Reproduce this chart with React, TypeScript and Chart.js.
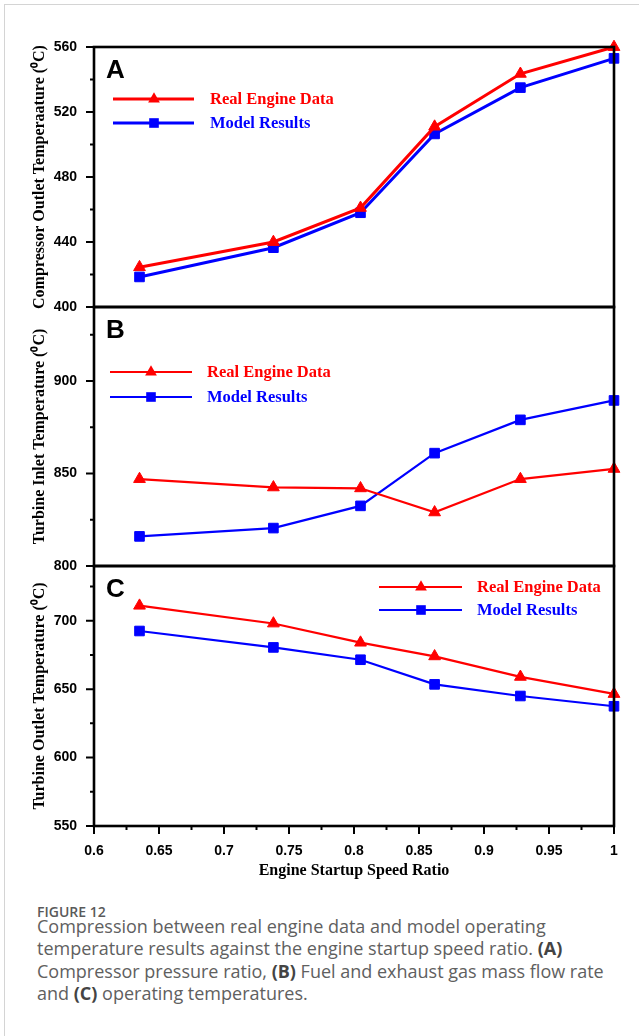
import React, { useEffect, useRef } from "react";
import { Chart, registerables } from "chart.js";

Chart.register(...registerables);

// ---------- data ----------
const SPEED_RATIO = [0.635, 0.738, 0.805, 0.862, 0.928, 1.0];

const COMP_OUT_REAL = [424.5, 440, 461, 511, 543.5, 560];
const COMP_OUT_MODEL = [418.5, 436.5, 458, 506.5, 535, 553];

const TURB_IN_REAL = [847, 842.5, 842, 829, 847, 852.5];
const TURB_IN_MODEL = [816, 820.5, 832.5, 861, 879, 889.5];

const TURB_OUT_REAL = [711, 698, 684, 674, 659, 646.5];
const TURB_OUT_MODEL = [692.5, 680.5, 671.5, 653.5, 645, 637.5];

const X_TICKS = [0.6, 0.65, 0.7, 0.75, 0.8, 0.85, 0.9, 0.95, 1];
const X_MINOR = [0.625, 0.675, 0.725, 0.775, 0.825, 0.875, 0.925, 0.975];
const A_TICKS = [400, 440, 480, 520, 560];
const A_MINOR = [420, 460, 500, 540];
const B_TICKS = [800, 850, 900];
const B_MINOR = [825, 875, 925];
const C_TICKS = [550, 600, 650, 700];
const C_MINOR = [575, 625, 675, 725];

const SERIES_LABELS = ["Real Engine Data", "Model Results"];
const Y_TITLES = [
  "Compressor Outlet Temperaature (\u2070C)",
  "Turbine Inlet Temperature (\u2070C)",
  "Turbine Outlet Temperature (\u2070C)",
];
const X_TITLE = "Engine Startup Speed Ratio";
const PANEL_LETTERS = ["A", "B", "C"];

const RED = "#ff0000";
const BLUE = "#0000ff";

type PanelCfg = {
  top: number;
  height: number;
  padTop: number;
  padBottom: number;
  showX: boolean;
  real: number[];
  model: number[];
  yMin: number;
  yMax: number;
  yTicks: number[];
  yMinor: number[];
  yTitle: string;
  letter: string;
  lw: number;
  legend: { x0: number; x1: number; xm: number; yR: number; yB: number; tx: number };
};

// chart areas: A 47-307, B 307-566, C 566-826 (page px)
const PANELS: PanelCfg[] = [
  {
    top: 0, height: 325, padTop: 47, padBottom: 18, showX: false,
    real: COMP_OUT_REAL, model: COMP_OUT_MODEL, yMin: 400, yMax: 560,
    yTicks: A_TICKS, yMinor: A_MINOR, yTitle: Y_TITLES[0], letter: PANEL_LETTERS[0], lw: 3,
    legend: { x0: 113, x1: 194, xm: 154, yR: 99, yB: 123, tx: 210 },
  },
  {
    top: 289, height: 295, padTop: 18, padBottom: 18, showX: false,
    real: TURB_IN_REAL, model: TURB_IN_MODEL, yMin: 800, yMax: 940,
    yTicks: B_TICKS, yMinor: B_MINOR, yTitle: Y_TITLES[1], letter: PANEL_LETTERS[1], lw: 2.2,
    legend: { x0: 110, x1: 192, xm: 151, yR: 372, yB: 397, tx: 207 },
  },
  {
    top: 548, height: 332, padTop: 18, padBottom: 0, showX: true,
    real: TURB_OUT_REAL, model: TURB_OUT_MODEL, yMin: 550, yMax: 740,
    yTicks: C_TICKS, yMinor: C_MINOR, yTitle: Y_TITLES[2], letter: PANEL_LETTERS[2], lw: 2.2,
    legend: { x0: 379, x1: 462, xm: 421, yR: 587, yB: 610, tx: 477 },
  },
];

const TICK_FONT = { family: "'Liberation Sans', Arial, sans-serif", weight: "bold" as const, size: 14 };
const TITLE_FONT = { family: "'Liberation Serif', 'Times New Roman', serif", weight: "bold" as const, size: 16 };

function drawMarker(ctx: CanvasRenderingContext2D, style: string, x: number, y: number, r: number, color: string) {
  ctx.fillStyle = color;
  ctx.beginPath();
  if (style === "triangle") {
    let rad = 0;
    ctx.moveTo(x + Math.sin(rad) * r, y - Math.cos(rad) * r);
    rad += (2 * Math.PI) / 3;
    ctx.lineTo(x + Math.sin(rad) * r, y - Math.cos(rad) * r);
    rad += (2 * Math.PI) / 3;
    ctx.lineTo(x + Math.sin(rad) * r, y - Math.cos(rad) * r);
    ctx.closePath();
  } else {
    const s = Math.SQRT1_2 * r;
    ctx.rect(x - s, y - s, 2 * s, 2 * s);
  }
  ctx.fill();
}

function makeChart(canvas: HTMLCanvasElement, cfg: PanelCfg) {
  const framePlugin = {
    id: "frameTicksLegend",
    afterDatasetsDraw(chart: any) {
      const ctx: CanvasRenderingContext2D = chart.ctx;
      const { left, right, top, bottom } = chart.chartArea;
      const ys = chart.scales.y;
      const xs = chart.scales.x;
      ctx.save();
      ctx.strokeStyle = "#000";
      ctx.lineWidth = 2;
      ctx.beginPath();
      cfg.yTicks.forEach((v) => {
        const p = ys.getPixelForValue(v);
        ctx.moveTo(left - 8, p);
        ctx.lineTo(left, p);
      });
      cfg.yMinor.forEach((v) => {
        const p = ys.getPixelForValue(v);
        ctx.moveTo(left - 4, p);
        ctx.lineTo(left, p);
      });
      if (cfg.showX) {
        X_TICKS.forEach((v) => {
          const p = xs.getPixelForValue(v);
          ctx.moveTo(p, bottom);
          ctx.lineTo(p, bottom + 8);
        });
        X_MINOR.forEach((v) => {
          const p = xs.getPixelForValue(v);
          ctx.moveTo(p, bottom);
          ctx.lineTo(p, bottom + 4);
        });
      }
      ctx.stroke();
      ctx.lineWidth = 2.6;
      ctx.strokeRect(left, top, right - left, bottom - top);

      // panel letter
      ctx.fillStyle = "#000";
      ctx.font = "bold 26px 'Liberation Sans', Arial, sans-serif";
      ctx.textBaseline = "alphabetic";
      ctx.textAlign = "left";
      ctx.fillText(cfg.letter, left + 12, top + 31);

      // legend
      const L = cfg.legend;
      const off = cfg.top;
      const items = [
        { y: L.yR - off, color: RED, style: "triangle", text: SERIES_LABELS[0] },
        { y: L.yB - off, color: BLUE, style: "rect", text: SERIES_LABELS[1] },
      ];
      items.forEach((it) => {
        ctx.strokeStyle = it.color;
        ctx.lineWidth = cfg.lw;
        ctx.beginPath();
        ctx.moveTo(L.x0, it.y);
        ctx.lineTo(L.x1, it.y);
        ctx.stroke();
        drawMarker(ctx, it.style, L.xm, it.y, 6.8, it.color);
        ctx.fillStyle = it.color;
        ctx.font = "bold 16.5px 'Liberation Serif', 'Times New Roman', serif";
        ctx.textBaseline = "middle";
        ctx.fillText(it.text, L.tx, it.y + 1);
      });
      ctx.restore();
    },
  };

  const mk = (vals: number[]) => SPEED_RATIO.map((x, i) => ({ x, y: vals[i] }));

  return new Chart(canvas, {
    type: "line",
    data: {
      datasets: [
        {
          label: SERIES_LABELS[0],
          data: mk(cfg.real),
          borderColor: RED,
          backgroundColor: RED,
          pointBackgroundColor: RED,
          pointBorderColor: RED,
          pointStyle: "triangle",
          pointRadius: 6.8,
          pointBorderWidth: 1,
          borderWidth: cfg.lw,
          tension: 0,
          clip: false,
        },
        {
          label: SERIES_LABELS[1],
          data: mk(cfg.model),
          borderColor: BLUE,
          backgroundColor: BLUE,
          pointBackgroundColor: BLUE,
          pointBorderColor: BLUE,
          pointStyle: "rect",
          pointRadius: 6.8,
          pointBorderWidth: 1,
          borderWidth: cfg.lw,
          tension: 0,
          clip: false,
        },
      ],
    },
    options: {
      animation: false,
      responsive: false,
      maintainAspectRatio: false,
      devicePixelRatio: 1,
      layout: { padding: { left: 0, right: 25, top: cfg.padTop, bottom: cfg.padBottom } },
      plugins: { legend: { display: false }, tooltip: { enabled: false } },
      scales: {
        x: {
          type: "linear",
          min: 0.6,
          max: 1,
          display: cfg.showX,
          afterBuildTicks: (s: any) => {
            s.ticks = X_TICKS.map((v) => ({ value: v }));
          },
          afterFit: (s: any) => {
            s.height = cfg.showX ? 54 : 0;
          },
          grid: { display: false, drawTicks: true, tickLength: 8 },
          border: { display: false },
          ticks: {
            font: TICK_FONT,
            color: "#000",
            padding: 9,
            maxRotation: 0,
            autoSkip: false,
            callback: (v: any) => String(Math.round(Number(v) * 100) / 100),
          },
          title: {
            display: true,
            text: X_TITLE,
            font: TITLE_FONT,
            color: "#000",
            padding: { top: 0, bottom: 0 },
          },
        },
        y: {
          type: "linear",
          min: cfg.yMin,
          max: cfg.yMax,
          afterBuildTicks: (s: any) => {
            s.ticks = cfg.yTicks.map((v) => ({ value: v }));
          },
          afterFit: (s: any) => {
            s.width = 94;
          },
          grid: { display: false, drawTicks: true, tickLength: 8 },
          border: { display: false },
          ticks: {
            font: TICK_FONT,
            color: "#000",
            padding: 9,
            autoSkip: false,
            callback: (v: any) => String(v),
          },
          title: {
            display: true,
            text: cfg.yTitle,
            font: TITLE_FONT,
            color: "#000",
            padding: { top: 30, bottom: 0 },
          },
        },
      },
    },
    plugins: [framePlugin],
  } as any);
}

function Panel({ cfg }: { cfg: PanelCfg }) {
  const ref = useRef<HTMLCanvasElement | null>(null);
  useEffect(() => {
    if (!ref.current) return;
    const chart = makeChart(ref.current, cfg);
    return () => chart.destroy();
  }, [cfg]);
  return (
    <canvas
      ref={ref}
      width={639}
      height={cfg.height}
      style={{ position: "absolute", left: 0, top: cfg.top, width: 639, height: cfg.height }}
    />
  );
}

export default function App() {
  const capStyle: React.CSSProperties = {
    position: "absolute",
    left: 37,
    top: 914.7,
    fontFamily: "'Open Sans', 'Noto Sans', sans-serif",
    fontSize: 18,
    lineHeight: "22.6px",
    color: "#606060",
    whiteSpace: "nowrap",
  };
  const b: React.CSSProperties = { fontWeight: 700, color: "#444" };
  return (
    <div
      style={{
        position: "absolute",
        left: 0,
        top: 0,
        width: 639,
        height: 1036,
        background: "#fff",
        overflow: "hidden",
      }}
    >
      <div
        style={{
          position: "absolute",
          left: 4,
          top: 4,
          right: 0,
          bottom: 0,
          borderTop: "1px solid #d4d4d4",
          borderLeft: "1px solid #d4d4d4",
        }}
      />
      {PANELS.map((p, i) => (
        <Panel key={i} cfg={p} />
      ))}
      <div
        style={{
          position: "absolute",
          left: 37,
          top: 902.6,
          fontFamily: "'Open Sans', 'Noto Sans', sans-serif",
          fontSize: 14,
          lineHeight: "18px",
          fontWeight: 600,
          color: "#5a5a5a",
        }}
      >
        FIGURE 12
      </div>
      <div style={capStyle}>
        Compression between real engine data and model operating
        <br />
        temperature results against the engine startup speed ratio. <span style={b}>(A)</span>
        <br />
        Compressor pressure ratio, <span style={b}>(B)</span> Fuel and exhaust gas mass flow rate
        <br />
        and <span style={b}>(C)</span> operating temperatures.
      </div>
    </div>
  );
}
